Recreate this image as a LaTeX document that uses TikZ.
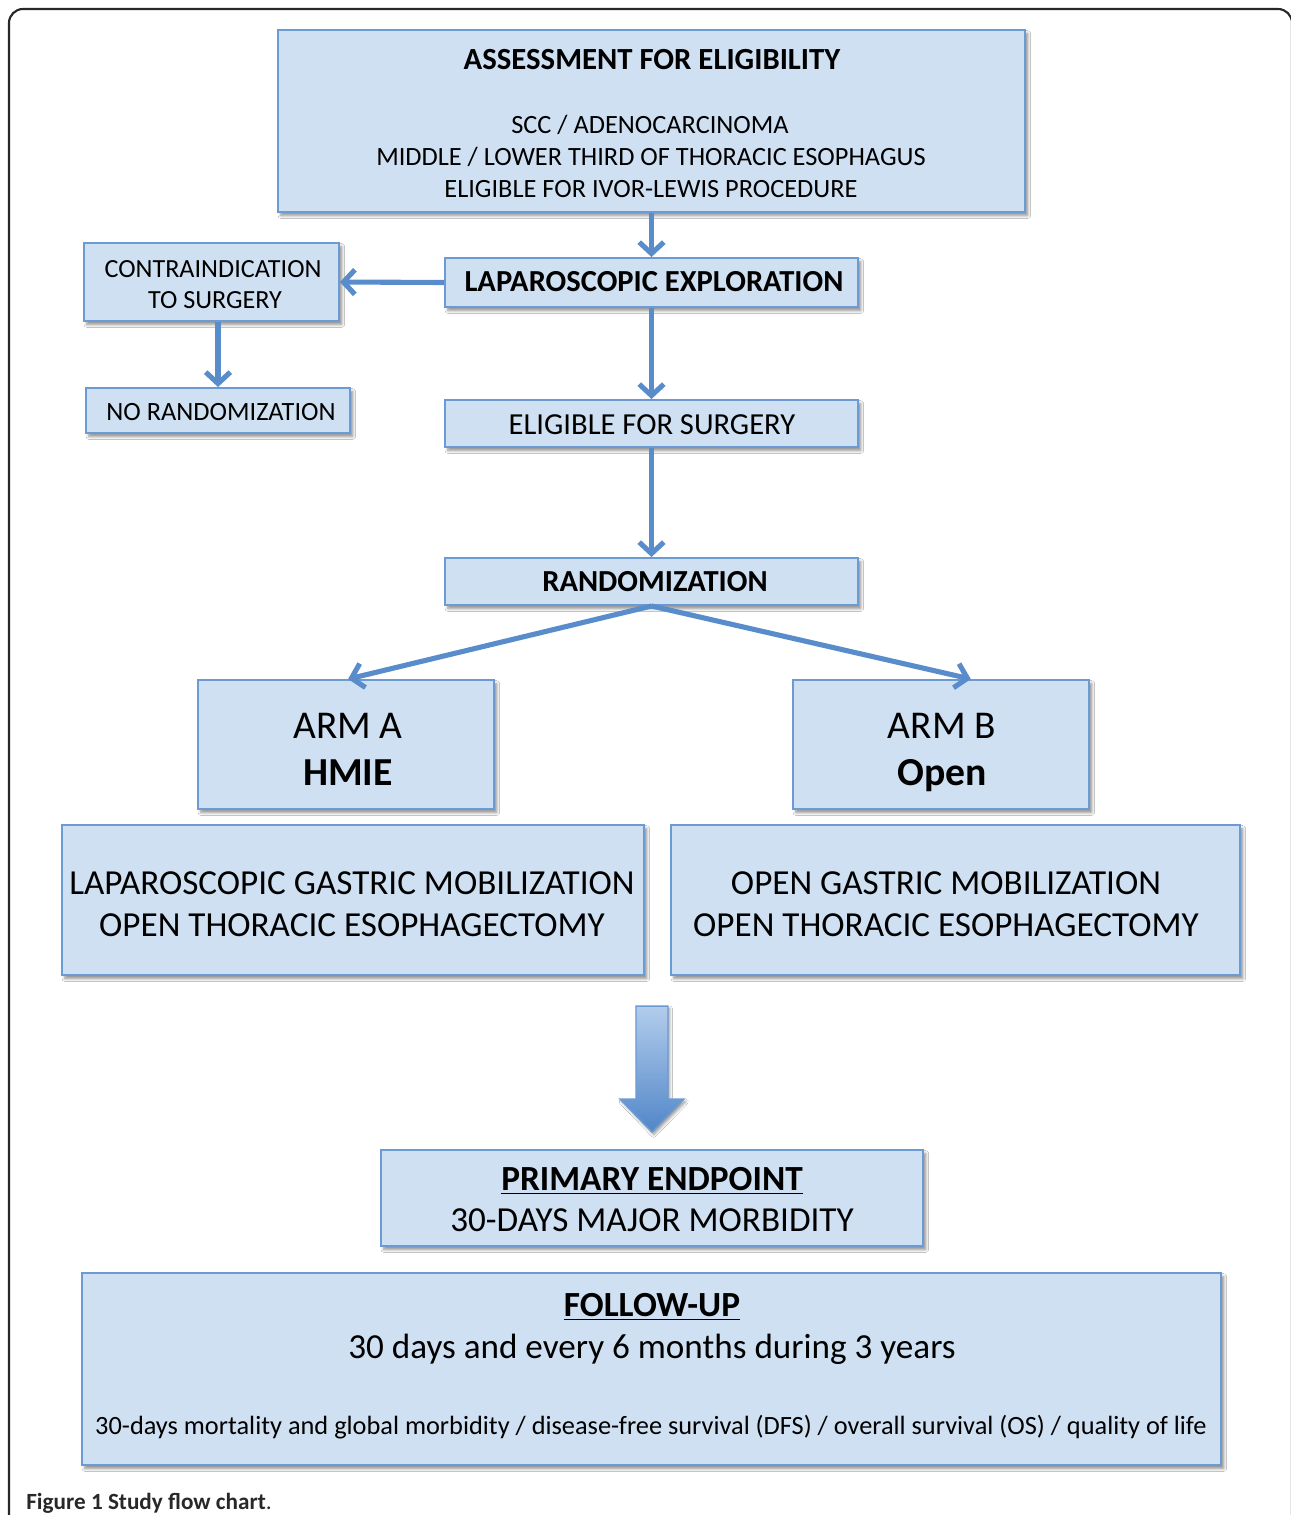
\documentclass[tikz,border=0pt]{standalone}
\usepackage{fontspec}
\setmainfont{Carlito}
\usetikzlibrary{fit,shadows.blur,arrows.meta,calc}
\definecolor{boxfill}{RGB}{207,224,242}
\definecolor{boxline}{RGB}{108,155,212}
\definecolor{arrowc}{RGB}{88,140,203}
\definecolor{arrowlight}{RGB}{178,205,236}
\definecolor{arrowdark}{RGB}{82,134,200}
\definecolor{framec}{RGB}{40,40,40}
\tikzset{
  box/.style={draw=boxline, fill=boxfill, line width=1.1pt, inner sep=0pt,
    blur shadow={shadow xshift=1.6pt, shadow yshift=-2pt, shadow blur radius=1.6pt, shadow blur steps=6, shadow opacity=45}},
  lbl/.style={inner sep=0pt, anchor=base},
  conn/.style={draw=arrowc, line width=2.9pt, -{Straight Barb[length=6.5pt,width=14pt]}},
  bigarrow/.style={draw=boxline, line width=0.8pt, top color=arrowlight, bottom color=arrowdark,
    blur shadow={shadow xshift=1pt, shadow yshift=-1.5pt, shadow blur radius=1.5pt, shadow blur steps=5, shadow opacity=40}},
}
\begin{document}
\begin{tikzpicture}[x=0.02cm,y=-0.02cm]
\useasboundingbox (0,0) rectangle (1291,1515);
\fill[white] (0,0) rectangle (1291,1515);
% frame
\draw[framec, line width=1.2pt, rounded corners=0.28cm] (9,1560) -- (9,9) -- (1292,9) -- (1292,1560);

% boxes
\node[box, fit={(278,30) (1025,212)}] (assess) {};
\node[box, fit={(445,258) (858,307)}] (lap) {};
\node[box, fit={(84,243) (339,321)}] (contra) {};
\node[box, fit={(86,388) (350,433)}] (norand) {};
\node[box, fit={(445,400) (858,447)}] (elig) {};
\node[box, fit={(445,558) (858,605)}] (rand) {};
\node[box, fit={(198,680) (494,809)}] (armA) {};
\node[box, fit={(793,680) (1089,809)}] (armB) {};
\node[box, fit={(62,825) (644,975)}] (descA) {};
\node[box, fit={(671,825) (1240,975)}] (descB) {};
\node[box, fit={(381,1150) (923,1246)}] (primary) {};
\node[box, fit={(82,1273) (1221,1465)}] (follow) {};

% texts
\node[lbl, font=\fontsize{17.5}{21}\selectfont\bfseries] (t1) at (652,69.9) {ASSESSMENT FOR ELIGIBILITY};
\node[lbl, font=\fontsize{15}{18}\selectfont] (t2) at (650,133.5) {SCC / ADENOCARCINOMA};
\node[lbl, font=\fontsize{15}{18}\selectfont] (t3) at (651,165.5) {MIDDLE / LOWER THIRD OF THORACIC ESOPHAGUS};
\node[lbl, font=\fontsize{15}{18}\selectfont] (t4) at (651,197.5) {ELIGIBLE FOR IVOR-LEWIS PROCEDURE};
\node[lbl, font=\fontsize{17.4}{21}\selectfont\bfseries] (t5) at (654,291.8) {LAPAROSCOPIC EXPLORATION};
\node[lbl, font=\fontsize{14.9}{18}\selectfont] (t6) at (213,277.4) {CONTRAINDICATION};
\node[lbl, font=\fontsize{14.9}{18}\selectfont] (t7) at (215,308.4) {TO SURGERY};
\node[lbl, font=\fontsize{15}{18}\selectfont] (t8) at (221,420.5) {NO RANDOMIZATION};
\node[lbl, font=\fontsize{17.4}{21}\selectfont] (t9) at (652,434.8) {ELIGIBLE FOR SURGERY};
\node[lbl, font=\fontsize{17.4}{21}\selectfont\bfseries] (t10) at (655,591.8) {RANDOMIZATION};
\node[lbl, font=\fontsize{22.4}{27}\selectfont] (t11) at (348,738.7) {ARM A};
\node[lbl, font=\fontsize{22.6}{27}\selectfont\bfseries] (t12) at (348,785.7) {HMIE};
\node[lbl, font=\fontsize{22.4}{27}\selectfont] (t13) at (942,738.7) {ARM B};
\node[lbl, font=\fontsize{22.6}{27}\selectfont\bfseries] (t14) at (942,785.7) {Open};
\node[lbl, font=\fontsize{20}{24}\selectfont] (t15) at (352,894.3) {LAPAROSCOPIC GASTRIC MOBILIZATION};
\node[lbl, font=\fontsize{20}{24}\selectfont] (t16) at (352,936.3) {OPEN THORACIC ESOPHAGECTOMY};
\node[lbl, font=\fontsize{20}{24}\selectfont] (t17) at (946,894.3) {OPEN GASTRIC MOBILIZATION};
\node[lbl, font=\fontsize{20}{24}\selectfont] (t18) at (946,936.3) {OPEN THORACIC ESOPHAGECTOMY};
\node[lbl, font=\fontsize{20.1}{24}\selectfont\bfseries] (t19) at (652,1190.3) {\underline{PRIMARY ENDPOINT}};
\node[lbl, font=\fontsize{20}{24}\selectfont] (t20) at (652,1231.3) {30-DAYS MAJOR MORBIDITY};
\node[lbl, font=\fontsize{20.1}{24}\selectfont\bfseries] (t21) at (652,1316.3) {\underline{FOLLOW-UP}};
\node[lbl, font=\fontsize{20}{24}\selectfont] (t22) at (652,1358.3) {30 days and every 6 months during 3 years};
\node[lbl, font=\fontsize{15}{18}\selectfont] (t23) at (651,1434.5) {30-days mortality and global morbidity / disease-free survival (DFS) / overall survival (OS) / quality of life};
\node[lbl, anchor=base west, text=framec, font=\fontsize{13.2}{16}\selectfont] (cap) at (26,1509) {\textbf{Figure 1 Study flow chart}.};

% connectors
\draw[conn] (assess.south) -- (lap.north);
\draw[conn] (lap.west) -- (contra.east);
\draw[conn] (contra.south -| norand.north) -- (norand.north);
\draw[conn] (lap.south) -- (elig.north);
\draw[conn] (elig.south) -- (rand.north);
\coordinate (aTip) at ($(armA.north west)!0.507!(armA.north east)$);
\coordinate (bTip) at ($(armB.north west)!0.60!(armB.north east)$);
\draw[conn] (rand.south) -- (aTip);
\draw[conn] (rand.south) -- (bTip);

% big block arrow
\coordinate (bigTop) at ($(primary.north)+(0,-143)$);
\draw[bigarrow] (bigTop) ++(-16,0) -- ++(32,0) -- ++(0,93) -- ++(16,0) -- ($(primary.north)+(0,-17)$) -- ($(bigTop)+(-32,93)$) -- ++(16,0) -- cycle;
\end{tikzpicture}
\end{document}
